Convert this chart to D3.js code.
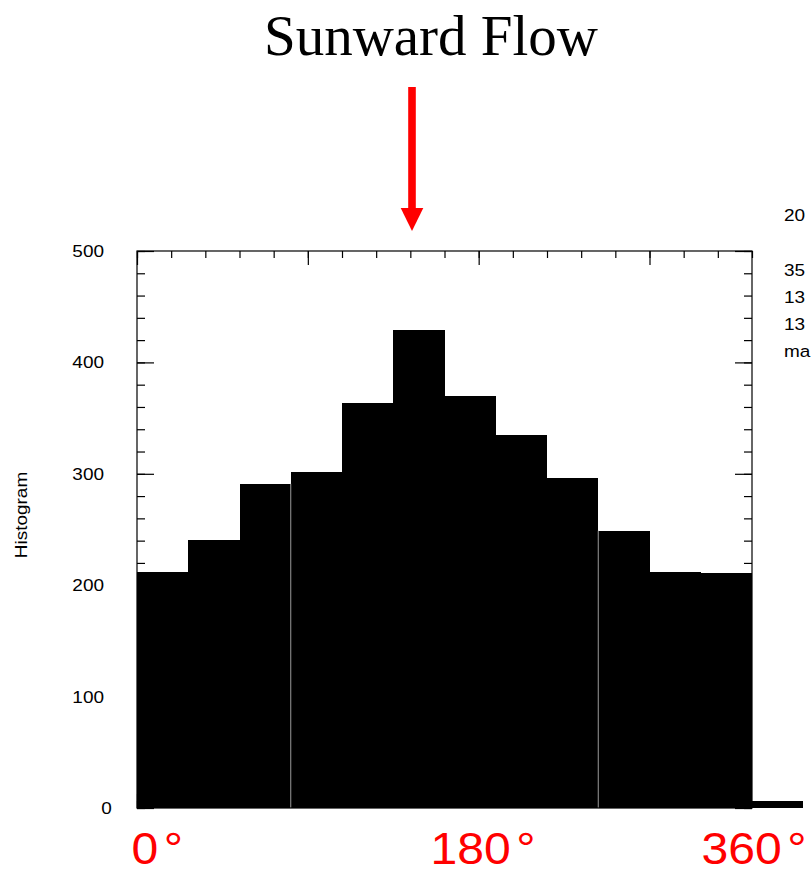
<!DOCTYPE html>
<html>
<head>
<meta charset="utf-8">
<script src="https://cdn.jsdelivr.net/npm/d3@7/dist/d3.min.js"></script>
<style>
  html, body { margin: 0; padding: 0; background: #fff; }
  svg { display: block; }
</style>
</head>
<body>
<script>
// Histogram of flow direction angle, 30-degree bins; last bin is the overflow above 360
const binStarts = [0, 30, 60, 90, 120, 150, 180, 210, 240, 270, 300, 330, 360];
const binWidth = 30;
const counts = [212, 241, 291, 302, 364, 429, 370, 335, 296, 249, 212, 211, 6];

// Axis ticks
const yMajor = [0, 100, 200, 300, 400, 500];
const yMinor = d3.range(0, 501, 20);
const xMajor = [0, 100, 200, 300];
const xMinor = d3.range(0, 361, 20);

// Quadrant markers at 90 and 270 degrees
const quadrantLines = [90, 270];

// Text
const title = "Sunward Flow";
const yTitle = "Histogram";
const sideNotes = ["20", "35", "13", "13", "ma"];
const angleLabels = [
  { text: "0", x: 131.5 },
  { text: "180", x: 430.5 },
  { text: "360", x: 701.5 }
];

const W = 812, H = 869;
const svg = d3.select("body").append("svg").attr("width", W).attr("height", H);

const x = d3.scaleLinear().domain([0, 360]).range([137, 752]);
const y = d3.scaleLinear().domain([0, 500]).range([808, 251]);

const SANS = "'Liberation Sans', Arial, Helvetica, sans-serif";
const STRETCH = 1.15;

// Horizontally widened sans text
function wideText(g, str, tx, ty, anchor, size, rot) {
  return g.append("text")
    .attr("transform", `translate(${tx},${ty})${rot ? ` rotate(${rot})` : ""} scale(${STRETCH},1)`)
    .attr("text-anchor", anchor)
    .attr("font-family", SANS)
    .attr("font-size", size)
    .attr("fill", "#000")
    .text(str);
}

// Bars
svg.append("g").selectAll("rect")
  .data(binStarts.map((s, i) => ({ s, v: counts[i] })))
  .join("rect")
  .attr("x", d => x(d.s))
  .attr("width", d => x(d.s + binWidth) - x(d.s))
  .attr("y", d => y(d.v))
  .attr("height", d => y(0) - y(d.v))
  .attr("fill", "#000")
  .attr("shape-rendering", "crispEdges");

// Quadrant markers inside the bars
svg.append("g").selectAll("line")
  .data(quadrantLines)
  .join("line")
  .attr("x1", d => x(d)).attr("x2", d => x(d))
  .attr("y1", y(0))
  .attr("y2", d => {
    const i = binStarts.indexOf(d);
    return y(Math.min(counts[i], counts[i - 1]));
  })
  .attr("stroke", "#9a9a9a")
  .attr("stroke-width", 1);

// Frame axes with inward ticks
const axesG = svg.append("g").attr("stroke", "#000").attr("stroke-width", 1.2).attr("fill", "none");

function ticks(g, axis, values, len) {
  g.call(axis.tickValues(values).tickSize(len).tickFormat(""));
  g.select(".domain").remove();
  g.selectAll(".tick line").attr("stroke", "#000").attr("stroke-width", 1.2);
}

const leftAxis = axesG.append("g").attr("transform", `translate(${x(0)},0)`);
ticks(leftAxis.append("g"), d3.axisLeft(y), yMinor, -8);
ticks(leftAxis.append("g"), d3.axisLeft(y), yMajor, -17);

const rightAxis = axesG.append("g").attr("transform", `translate(${x(360)},0)`);
ticks(rightAxis.append("g"), d3.axisRight(y), yMinor, -8);
ticks(rightAxis.append("g"), d3.axisRight(y), yMajor, -17);

const topAxis = axesG.append("g").attr("transform", `translate(0,${y(500)})`);
ticks(topAxis.append("g"), d3.axisTop(x), xMinor, -7);
ticks(topAxis.append("g"), d3.axisTop(x), xMajor, -14);

const bottomAxis = axesG.append("g").attr("transform", `translate(0,${y(0)})`);
ticks(bottomAxis.append("g"), d3.axisBottom(x), xMinor, -7);
ticks(bottomAxis.append("g"), d3.axisBottom(x), xMajor, -14);

axesG.append("rect")
  .attr("x", x(0)).attr("y", y(500))
  .attr("width", x(360) - x(0)).attr("height", y(0) - y(500))
  .attr("fill", "none").attr("stroke", "#000").attr("stroke-width", 1.2);

// Y tick labels
const labels = svg.append("g");
yMajor.forEach(v => {
  if (v === 0) wideText(labels, "0", 106.5, y(v) + 6, "middle", 16.5);
  else wideText(labels, String(v), 104, y(v) + 6, "end", 16.5);
});

// Y axis title
wideText(svg, yTitle, 27, 515, "middle", 16.5, -90);

// Side notes (run off the right edge)
sideNotes.forEach((t, i) => {
  const yy = i === 0 ? 221 : 276 + (i - 1) * 27;
  wideText(svg, t, 784, yy, "start", 16.5);
});

// Title
svg.append("text")
  .attr("x", 431).attr("y", 55)
  .attr("text-anchor", "middle")
  .attr("font-family", "'Liberation Serif', 'Times New Roman', serif")
  .attr("font-size", 57)
  .attr("fill", "#000")
  .text(title);

// Sunward arrow
const ax = 412;
svg.append("rect")
  .attr("x", ax - 3.8).attr("y", 87)
  .attr("width", 7.6).attr("height", 208 - 87 + 1)
  .attr("fill", "#ff0000");
svg.append("path")
  .attr("d", `M${ax - 11.3},208 L${ax + 11.3},208 L${ax},231 Z`)
  .attr("fill", "#ff0000");

// Angle annotations under the axis
angleLabels.forEach(d => {
  const t = svg.append("text")
    .attr("transform", `translate(${d.x},864) scale(1.07,1)`)
    .attr("font-family", SANS)
    .attr("font-size", 45)
    .attr("fill", "#ff0000");
  t.append("tspan").text(d.text);
  t.append("tspan").attr("dx", 5).text("°");
});
</script>
</body>
</html>
